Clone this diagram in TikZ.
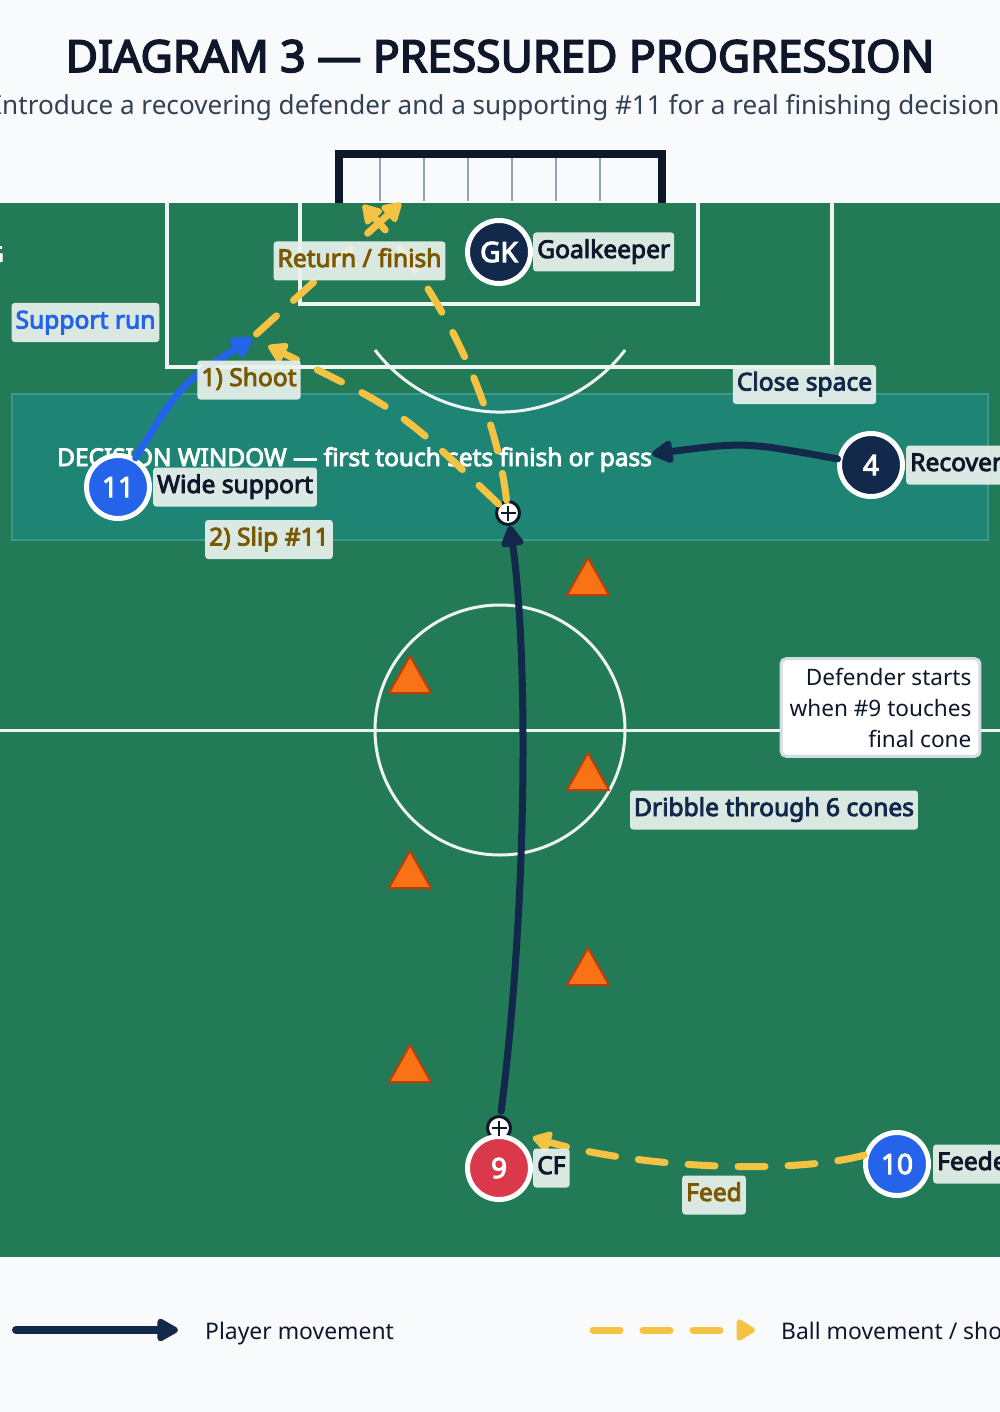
\documentclass[tikz,border=0pt]{standalone}
\usepackage{fontspec}
\setmainfont{Noto Sans}[AutoFakeBold=3.6]
\usepackage{tikz}
\usetikzlibrary{positioning,arrows.meta}
\definecolor{bgc}{HTML}{F8FAFC}
\definecolor{pitch}{HTML}{237A57}
\definecolor{zone}{HTML}{1E8474}
\definecolor{zoneline}{HTML}{3A9B8C}
\definecolor{chalk}{HTML}{EEF4F1}
\definecolor{navy}{HTML}{12294B}
\definecolor{ink}{HTML}{0F172A}
\definecolor{netc}{HTML}{94A3B8}
\definecolor{blu}{HTML}{2563EB}
\definecolor{redp}{HTML}{D9394B}
\definecolor{gold}{HTML}{F5C343}
\definecolor{goldtxt}{HTML}{7A5800}
\definecolor{cone}{HTML}{F97316}
\definecolor{coneline}{HTML}{B9400C}
\definecolor{tagfill}{HTML}{EAF2EE}
\definecolor{subc}{HTML}{334155}
\definecolor{notec}{HTML}{D3DBE4}
\newcommand{\fsz}[1]{\fontsize{#1}{#1}\selectfont}

\begin{document}
\begin{tikzpicture}[x=1pt, y=-1pt]
\tikzstyle{every node}=[inner sep=0pt]
\tikzstyle{player}=[circle, draw=white, line width=5pt, minimum size=63pt,
                    text=white, font=\bfseries\fsz{28}]
\tikzstyle{tag}=[rectangle, rounded corners=3pt, fill=tagfill, fill opacity=0.92,
                 text opacity=1, text=ink, inner xsep=4pt, inner ysep=7.5pt,
                 text height=18pt, text depth=6pt, font=\bfseries\fsz{24.6}]
\tikzstyle{ball}=[circle, draw=ink, fill=white, line width=3pt, minimum size=23pt]
\tikzstyle{mover}=[navy, line width=7pt, line cap=round,
                   -{Triangle[length=24pt, width=25pt, round]}]
\tikzstyle{ballpath}=[gold, line width=7pt, line cap=round, dash pattern=on 27pt off 23pt,
                      -{Triangle[length=21pt, width=24pt, round]}]
\tikzstyle{note}=[rectangle, rounded corners=5pt, draw=notec, line width=3pt, fill=white,
                  align=right, text=ink, inner xsep=8.5pt, inner ysep=9pt,
                  font=\fontsize{22.6}{31}\selectfont]
\useasboundingbox (0,0) rectangle (1000,1412);
\fill[bgc] (0,0) rectangle (1000,1412);
\fill[pitch] (0,203) rectangle (1000,1257);
\draw[chalk, line width=3pt] (0,730) -- (1000,730);
\draw[chalk, line width=3pt] (500,730) circle[radius=125];
\draw[chalk, line width=4pt] (167,203) -- (167,367) -- (832,367) -- (832,203);
\draw[chalk, line width=3.5pt] (300,203) -- (300,304) -- (698,304) -- (698,203);
\draw[netc, line width=2pt] foreach \x in {380,424,...,600} {(\x,157) -- (\x,201)};
\draw[ink, line width=8pt] (338.5,203) -- (338.5,154) -- (661.5,154) -- (661.5,203);
\filldraw[fill=zone, draw=zoneline, line width=2pt] (12,394) rectangle (988,540);
\draw[chalk, line width=3pt] (375,350) arc[start angle=142.8, end angle=37.2, radius=157];
\node[anchor=base east, text=white, font=\bfseries\fsz{22}] (EDGE) at (4,262) {G};
\node[anchor=base west, text=white, font=\bfseries\fsz{24.4}] (DW) at (57,466)
     {DECISION WINDOW — first touch sets finish or pass};
\foreach \x/\y in {588/558, 410/656, 588/753, 410/851, 588/948, 410/1045}
  \filldraw[fill=cone, draw=coneline, line width=2pt, line join=round]
     (\x,\y) -- ++(21,37) -- ++(-42,0) -- cycle;

\node[anchor=base, text=ink, font=\bfseries\fsz{44.3}] (TITLE) at (500,72)
     {DIAGRAM 3 — PRESSURED PROGRESSION};
\node[anchor=base, text=subc, font=\fsz{26.1}] (SUB) at (500,115)
     {Introduce a recovering defender and a supporting \#11 for a real finishing decision.};

\node[ball] (B1) at (508,513) {};
\node[ball] (B9) at (499,1128) {};
\coordinate (RUN) at (252,338);
\coordinate (DEF) at (652,454);
\coordinate (GL) at (363,205);
\coordinate (GR) at (401,203);

\node[player, fill=navy] (GK) at (499,252) {GK};
\node[player, fill=blu] (P11) at (118,487) {11};
\node[player, fill=navy] (P4) at (871,465) {4};
\node[player, fill=redp] (P9) at (499,1168) {9};
\node[player, fill=blu] (P10) at (897,1164) {10};

\draw[mover, shorten <=4pt] (B9) .. controls (528,900) and (528,650) .. (B1);
\draw[mover] (P4) .. controls (745,442) .. (DEF);
\draw[mover, blu] (P11) .. controls (180,385) .. (RUN);
\draw[ballpath, shorten >=22pt] (P10.165) .. controls (790,1175) and (640,1168) .. (B9);
\draw[ballpath, shorten >=18pt] (B1) .. controls (400,410) .. (RUN);
\draw[ballpath] (B1) .. controls (495,400) and (440,290) .. (GL);
\draw[ballpath, shorten <=6pt] (RUN) -- (GR);

\foreach \b in {B1,B9}
  \draw[ink, line width=2pt] (\b.center) ++(-7.5,0) -- ++(15,0) (\b.center) ++(0,-7.5) -- ++(0,15);

\node[tag, right=0pt of GK] (TGK) {Goalkeeper};
\node[tag, right=1pt of P11] (T11) {Wide support};
\node[tag, right=1pt of P4] (T4) {Recovers};
\node[tag, right=0pt of P9] (T9) {CF};
\node[tag, right=2pt of P10] (T10) {Feeder};
\node[tag, text=blu] (TRUN) at (85.5,322.5) {Support run};
\node[tag, text=goldtxt] (TRET) at (359.5,261) {Return / finish};
\node[tag, text=goldtxt] (TSHOT) at (249,380) {1) Shoot};
\node[tag, text=goldtxt] (TSLIP) at (269,539.5) {2) Slip \#11};
\node[tag, text=navy] (TCLOSE) at (804.5,384.5) {Close space};
\node[tag, text=navy] (TDRIB) at (774,810) {Dribble through 6 cones};
\node[tag, text=goldtxt] (TFEED) at (714,1195) {Feed};
\node[note] (NOTE) at (880.5,707.5) {Defender starts\\when \#9 touches\\final cone};

\coordinate (LA) at (16,1330);
\coordinate (LB) at (178,1330);
\coordinate (LC) at (593,1330);
\coordinate (LD) at (755,1330);
\draw[mover, line width=8pt] (LA) -- (LB);
\draw[ballpath] (LC) -- (LD);
\node[anchor=base west, text=ink, font=\fsz{22.9}] (LT1) at (205,1339) {Player movement};
\node[anchor=base west, text=ink, font=\fsz{22.9}] (LT2) at (781,1339) {Ball movement / shot};
\end{tikzpicture}
\end{document}
